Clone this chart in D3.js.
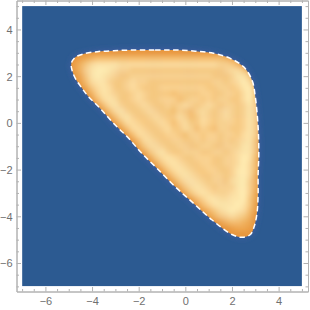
<!DOCTYPE html>
<html>
<head>
<meta charset="utf-8">
<script src="https://cdn.jsdelivr.net/npm/d3@7"></script>
<style>
html,body{margin:0;padding:0;background:#fff;}
svg{display:block;}
.axis text{font-family:"Liberation Sans",sans-serif;font-size:11px;fill:#707070;}
.axis path,.axis line{stroke:#b2b2b2;stroke-width:1;}
</style>
</head>
<body>
<svg class="chart" width="310" height="310"></svg>
<script>
var majorTicks = [-6,-4,-2,0,2,4];
var minorTicks = [-7,-6.5,-5.5,-5,-4.5,-3.5,-3,-2.5,-1.5,-1,-0.5,0.5,1,1.5,2.5,3,3.5,4.5,5];

// dashed contour
var edgeX = [-0.43,-1.33,-2.23,-3.09,-3.78,-4.38,-4.72,-4.89,-4.86,-4.72,-4.43,-4.15,-3.65,-3.08,-2.43,-1.86,-1.21,-0.43,0.36,1.15,2.0,2.43,2.79,2.97,3.08,3.12,3.12,3.15,3.12,3.0,2.86,2.5,1.93,1.21,0.43];
var edgeY = [3.12,3.12,3.12,3.09,3.05,2.95,2.81,2.55,2.26,1.91,1.48,1.12,0.62,-0.02,-0.66,-1.31,-1.95,-2.74,-3.45,-4.16,-4.78,-4.90,-4.78,-4.38,-3.81,-3.09,-2.24,-1.31,-0.17,1.12,1.83,2.40,2.76,2.98,3.07];

// heat cells, one digit per cell, 0 = deep orange, 9 = palest
var gridX = [-5,-4.75,-4.5,-4.25,-4,-3.75,-3.5,-3.25,-3,-2.75,-2.5,-2.25,-2,-1.75,-1.5,-1.25,-1,-0.75,-0.5,-0.25,0,0.25,0.5,0.75,1,1.25,1.5,1.75,2,2.25,2.5,2.75,3,3.25];
var gridY = [3.25,3,2.75,2.5,2.25,2,1.75,1.5,1.25,1,0.75,0.5,0.25,0,-0.25,-0.5,-0.75,-1,-1.25,-1.5,-1.75,-2,-2.25,-2.5,-2.75,-3,-3.25,-3.5,-3.75,-4,-4.25,-4.5,-4.75,-5];
var levels = [
"0000000000000000000000000000000000",
"0000000000000000000000000000000000",
"0012344444444444444444444443210000",
"0135788887777777777777777766530000",
"0136899876655555555555555556775200",
"0025898765566666666666666555688520",
"0014788655676655555555555665679730",
"0002578755676555666666665566568940",
"0000368765567655554555566556657950",
"0000147875567655666456656566557950",
"0000014786556765565676567656656860",
"0000001478655676554654676567656860",
"0000000147865567655764576567656860",
"0000000014776556764675576566656860",
"0000000001477655675576465466556860",
"0000000000147765566546656656657860",
"0000000000014776556655656656567850",
"0000000000002577655665566556668850",
"0000000000000257865566655665678850",
"0000000000000025787655666556679840",
"0000000000000002578765566556679740",
"0000000000000000257876556655689740",
"0000000000000000025787655665689730",
"0000000000000000002578765665789630",
"0000000000000000000257876566689630",
"0000000000000000000025787666789620",
"0000000000000000000001468877889520",
"0000000000000000000000146888898510",
"0000000000000000000000013578987410",
"0000000000000000000000001356765300",
"0000000000000000000000000013443200",
"0000000000000000000000000000122100",
"0000000000000000000000000000000000",
"0000000000000000000000000000000000"
];

var svg = d3.select(".chart");

var x = d3.scaleLinear().domain([-7.24,5.26]).range([16.5,308]);
var y = d3.scaleLinear().domain([-7.22,5.24]).range([291.5,0.5]);

var colour = d3.scaleLinear()
.domain([0,2,4,5,6,7,9])
.range(["#e8963c","#efa951","#f5be70","#f7c981","#f9d291","#fbdc9f","#ffecb2"]);

var col = d3.scaleBand().domain(gridX).range([x(-5.125),x(3.375)]);
var row = d3.scaleBand().domain(gridY).range([y(3.375),y(-5.125)]);

var defs = svg.append("defs");
defs.append("clipPath").attr("id","plot").append("rect")
.attr("x",x(-7)).attr("y",y(5))
.attr("width",x(5)-x(-7)).attr("height",y(-7)-y(5));
defs.append("filter").attr("id","blurCells").attr("x","-10%").attr("y","-10%").attr("width","120%").attr("height","120%")
.append("feGaussianBlur").attr("stdDeviation",2.5);
defs.append("filter").attr("id","blurEdge").attr("x","-10%").attr("y","-10%").attr("width","120%").attr("height","120%")
.append("feGaussianBlur").attr("stdDeviation",0.6);
defs.append("filter").attr("id","blurGlow").attr("x","-20%").attr("y","-20%").attr("width","140%").attr("height","140%")
.append("feGaussianBlur").attr("stdDeviation",3);

var edgePts = edgeX.map(function(d,i){ return [d,edgeY[i]]; });
var edgeLine = d3.line()
.x(function(d){ return x(d[0]); })
.y(function(d){ return y(d[1]); })
.curve(d3.curveCatmullRomClosed);

defs.append("mask").attr("id","inside").attr("maskUnits","userSpaceOnUse")
.attr("x",0).attr("y",0).attr("width",310).attr("height",310)
.append("path").attr("d",edgeLine(edgePts)).attr("fill","#fff").attr("filter","url(#blurEdge)");

var plot = svg.append("g").attr("clip-path","url(#plot)");

plot.append("rect")
.attr("x",x(-7)).attr("y",y(5))
.attr("width",x(5)-x(-7)).attr("height",y(-7)-y(5))
.attr("fill","#2c5a91");

plot.append("path")
.attr("d",edgeLine(edgePts))
.attr("fill","#4a5fa6")
.attr("filter","url(#blurGlow)");

var cells = plot.append("g").attr("mask","url(#inside)")
.append("g").attr("filter","url(#blurCells)");

levels.forEach(function(r,j){
    cells.selectAll(".r"+j)
    .data(r.split(""))
    .enter().append("rect")
    .attr("class","r"+j)
    .attr("x",function(d,i){ return col(gridX[i]); })
    .attr("y",row(gridY[j]))
    .attr("width",col.bandwidth()+0.5)
    .attr("height",row.bandwidth()+0.5)
    .attr("fill",function(d){ return colour(+d); });
});

plot.append("path")
.attr("d",edgeLine(edgePts))
.attr("fill","none")
.attr("stroke","#fff")
.attr("stroke-width",1.5)
.attr("stroke-dasharray","5.5,3.5");

// frame, major and minor ticks all point inward
function frame(axis,pos,labelled){
    var place = function(g){ return g.attr("class","axis").attr("transform",pos); };
    svg.append("g").call(place)
    .call(axis.tickValues(minorTicks).tickSize(-2.5).tickSizeOuter(0).tickFormat(""));
    return svg.append("g").call(place)
    .call(axis.tickValues(majorTicks).tickSize(-4.5).tickSizeOuter(0).tickFormat(labelled ? d3.format("d") : ""));
}

var bottom = frame(d3.axisBottom(x),"translate(0,291.5)",true);
bottom.selectAll("text").attr("y",13).attr("dy","0");

var left = frame(d3.axisLeft(y),"translate(16.5,0)",true);
left.selectAll("text").attr("x",-4).attr("dy","0.35em");

frame(d3.axisTop(x),"translate(0,0.5)",false);
frame(d3.axisRight(y),"translate(308,0)",false);
</script>
</body>
</html>
